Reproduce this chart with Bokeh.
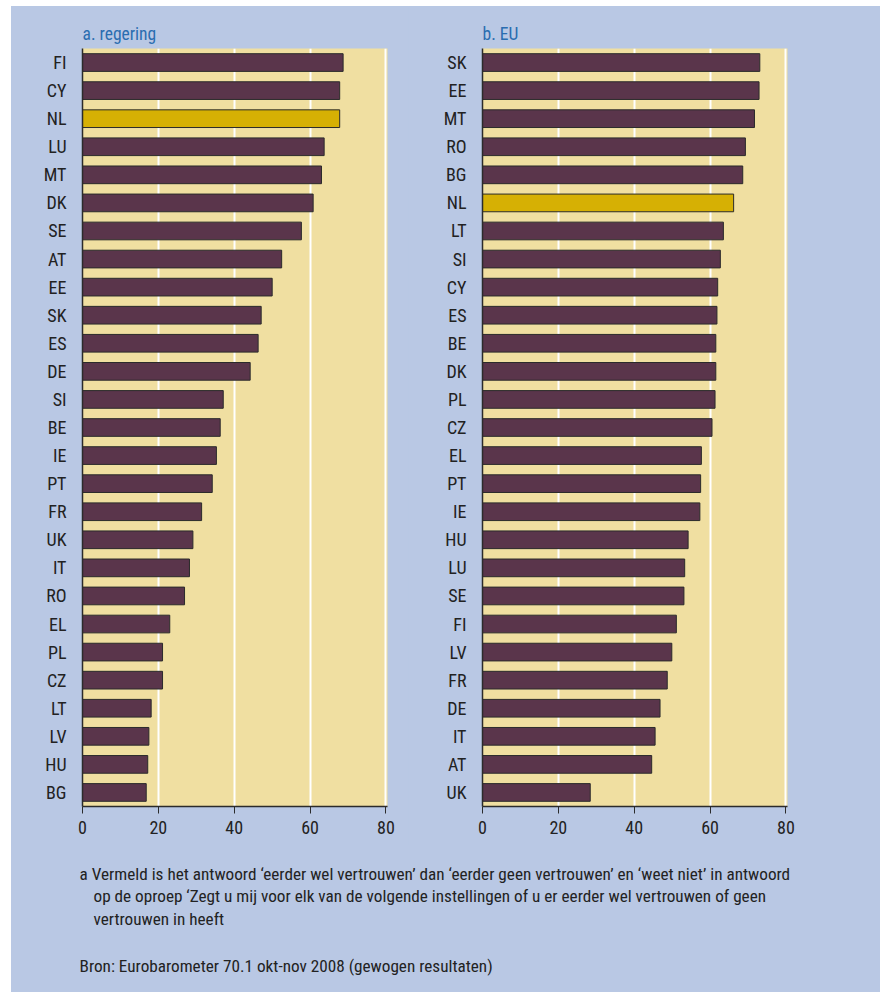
from bokeh.plotting import figure
from bokeh.models import Range1d, FactorRange, FixedTicker, ColumnDataSource
from bokeh.layouts import column, row
from bokeh.embed import file_html
from bokeh.resources import INLINE
from bokeh.core.properties import value

# ---------------- data ----------------
reg_countries = ["FI", "CY", "NL", "LU", "MT", "DK", "SE", "AT", "EE", "SK", "ES", "DE", "SI", "BE",
                 "IE", "PT", "FR", "UK", "IT", "RO", "EL", "PL", "CZ", "LT", "LV", "HU", "BG"]
reg_values = [68.7, 67.8, 67.8, 63.7, 63.0, 60.8, 57.7, 52.5, 50.0, 47.1, 46.3, 44.2, 37.1, 36.3,
              35.3, 34.2, 31.4, 29.1, 28.2, 26.9, 23.0, 21.1, 21.1, 18.1, 17.5, 17.2, 16.8]

eu_countries = ["SK", "EE", "MT", "RO", "BG", "NL", "LT", "SI", "CY", "ES", "BE", "DK", "PL", "CZ",
                "EL", "PT", "IE", "HU", "LU", "SE", "FI", "LV", "FR", "DE", "IT", "AT", "UK"]
eu_values = [73.1, 72.9, 71.7, 69.3, 68.6, 66.2, 63.5, 62.7, 62.0, 61.8, 61.5, 61.5, 61.3, 60.5,
             57.7, 57.5, 57.3, 54.2, 53.3, 53.1, 51.1, 49.9, 48.7, 46.8, 45.5, 44.6, 28.4]

highlight = "NL"
x_ticks = [0, 20, 40, 60, 80]
title_a = "a. regering"
title_b = "b. EU"
note_lines = [
    "a Vermeld is het antwoord \u2018eerder wel vertrouwen\u2019 dan \u2018eerder geen vertrouwen\u2019 en \u2018weet niet\u2019 in antwoord",
    "op de oproep \u2018Zegt u mij voor elk van de volgende instellingen of u er eerder wel vertrouwen of geen",
    "vertrouwen in heeft",
    "Bron: Eurobarometer 70.1 okt-nov 2008 (gewogen resultaten)",
]

# ---------------- style ----------------
FONT = "Roboto Condensed, Liberation Sans Narrow, DejaVu Sans Condensed, Roboto"
BG = "#b9c8e4"
PLOT_BG = "#f0dfa1"
BAR = "#5a354b"
HL = "#d6b004"
EDGE = "#2b2b2b"
TXT = "#222222"
TITLE_C = "#2a6db0"


def panel(title, cats, vals, width, border_left, border_right):
    p = figure(width=width, height=839,
               y_range=FactorRange(factors=cats[::-1], range_padding=0),
               x_range=Range1d(0, 80.4),
               output_backend="svg", toolbar_location=None,
               min_border_left=border_left, min_border_right=border_right,
               min_border_top=42, min_border_bottom=39, title=title)
    colors = [HL if c == highlight else BAR for c in cats]
    src = ColumnDataSource(dict(y=cats, right=vals, color=colors))
    p.hbar(y="y", left=0, right="right", height=0.63, fill_color="color",
           line_color=EDGE, line_width=1, source=src)
    p.background_fill_color = PLOT_BG
    p.border_fill_color = BG
    p.outline_line_color = None
    p.title.text_font = FONT
    p.title.text_font_size = "17.5px"
    p.title.text_font_style = "normal"
    p.title.text_color = TITLE_C
    p.title.align = "left"
    p.ygrid.grid_line_color = None
    p.xgrid.grid_line_color = "white"
    p.xgrid.grid_line_width = 2
    p.xaxis.ticker = FixedTicker(ticks=x_ticks)
    p.xaxis.minor_tick_line_color = None
    p.xaxis.major_tick_in = 0
    p.xaxis.major_tick_out = 7
    p.xaxis.major_label_standoff = 7
    p.yaxis.major_tick_line_color = None
    p.yaxis.minor_tick_line_color = None
    p.yaxis.major_label_standoff = 10
    for ax in (p.xaxis, p.yaxis):
        ax.axis_line_color = EDGE
        ax.axis_line_width = 1.5
        ax.major_label_text_font = FONT
        ax.major_label_text_font_size = "18px"
        ax.major_label_text_color = TXT
    p.xaxis.major_tick_line_color = EDGE
    p.yaxis.major_tick_line_color = None
    return p


pa = panel(title_a, reg_countries, reg_values, 397, 71, 21)
pb = panel(title_b, eu_countries, eu_values, 472, 74, 93)

foot = figure(width=869, height=147, x_range=Range1d(0, 869), y_range=Range1d(147, 0),
              output_backend="svg", toolbar_location=None, min_border=0)
foot.axis.visible = False
foot.grid.visible = False
foot.outline_line_color = None
foot.background_fill_color = BG
foot.border_fill_color = BG
foot.text(x=[68, 82, 82, 68], y=[28, 50, 73, 120], text=note_lines,
          text_font=value(FONT), text_font_size="17.2px", text_baseline="middle",
          text_color=TXT)

layout = column(row(pa, pb, styles={"background-color": BG}), foot,
                margin=(6, 0, 0, 11), styles={"background-color": BG})
open("out.html", "w").write(file_html(layout, INLINE))
